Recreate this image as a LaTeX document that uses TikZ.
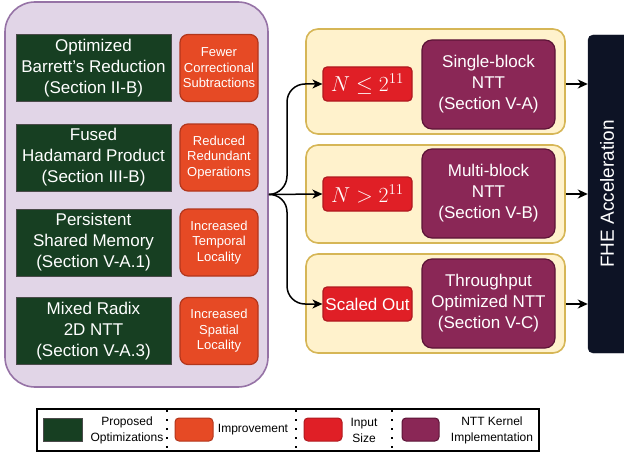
\documentclass[tikz,border=0pt]{standalone}
\usepackage{fontspec}
\setmainfont{Liberation Sans}
\usetikzlibrary{arrows.meta}
\definecolor{lilacfill}{HTML}{E1D5E7}
\definecolor{lilacdraw}{HTML}{9673A6}
\definecolor{greenfill}{HTML}{173F22}
\definecolor{greendraw}{HTML}{4A4A4A}
\definecolor{orangefill}{HTML}{E64A25}
\definecolor{orangedraw}{HTML}{B2361C}
\definecolor{yelfill}{HTML}{FFF2CC}
\definecolor{yeldraw}{HTML}{D6B656}
\definecolor{redfill}{HTML}{E01F26}
\definecolor{reddraw}{HTML}{B01A1F}
\definecolor{purfill}{HTML}{8A2756}
\definecolor{purdraw}{HTML}{5C1437}
\definecolor{navyfill}{HTML}{0D1325}
\tikzset{
  optbox/.style={draw=greendraw, fill=greenfill, line width=1pt, text=white, align=center,
    minimum width=155pt, minimum height=67pt, inner sep=0pt,
    font=\fontsize{17}{21}\selectfont},
  impbox/.style={draw=orangedraw, fill=orangefill, line width=1.2pt, text=white, align=center,
    rounded corners=8pt, minimum width=78pt, minimum height=67pt, inner sep=0pt,
    font=\fontsize{13}{15.5}\selectfont},
  groupbox/.style={draw=yeldraw, fill=yelfill, line width=1.6pt, rounded corners=12pt,
    minimum width=259pt, inner sep=0pt},
  sizebox/.style={draw=reddraw, fill=redfill, line width=1.2pt, text=white, align=center,
    rounded corners=4pt, minimum width=89pt, minimum height=34pt, inner sep=0pt,
    font=\fontsize{17}{21}\selectfont},
  kernbox/.style={draw=purdraw, fill=purfill, line width=1.2pt, text=white, align=center,
    rounded corners=10pt, minimum width=133pt, minimum height=89pt, inner sep=0pt,
    font=\fontsize{17}{21}\selectfont},
  conn/.style={line width=1.5pt, -{Stealth[length=10pt,width=9pt,inset=3pt]}},
  legtext/.style={align=center, font=\fontsize{12}{16}\selectfont, inner sep=0pt},
  legsep/.style={line width=2pt, dash pattern=on 2pt off 7pt},
}
\begin{document}
\begin{tikzpicture}[x=1pt,y=-1pt]
\useasboundingbox (0,0) rectangle (624,452);
% big group
\node[draw=lilacdraw, fill=lilacfill, line width=1.6pt, rounded corners=30pt,
  minimum width=263pt, minimum height=385pt, inner sep=0pt] (big) at (136.5,194.5) {};
\node[optbox] (o1) at (93.5,68) {Optimized\\Barrett's Reduction\\(Section II-B)};
\node[optbox] (o2) at (93.5,157.5) {Fused\\Hadamard Product\\(Section III-B)};
\node[optbox] (o3) at (93.5,242.5) {Persistent\\Shared Memory\\(Section V-A.1)};
\node[optbox] (o4) at (93.5,331) {Mixed Radix\\2D NTT\\(Section V-A.3)};
\node[impbox] (i1) at (219,68) {Fewer\\Correctional\\Subtractions};
\node[impbox] (i2) at (219,157.5) {Reduced\\Redundant\\Operations};
\node[impbox] (i3) at (219,242.5) {Increased\\Temporal\\Locality};
\node[impbox] (i4) at (219,331) {Increased\\Spatial\\Locality};
% groups
\node[groupbox, minimum height=105pt] (g1) at (435.5,81.5) {};
\node[groupbox, minimum height=98pt] (g2) at (435.5,194) {};
\node[groupbox, minimum height=99pt] (g3) at (435.5,303.5) {};
\node[sizebox] (s1) at (367.5,84) {\scalebox{1.25}{$N \le 2^{11}$}};
\node[sizebox] (s2) at (367.5,194) {\scalebox{1.25}{$N > 2^{11}$}};
\node[sizebox] (s3) at (367.5,304) {Scaled Out};
\node[kernbox] (k1) at (488.5,84.5) {Single-block\\NTT\\(Section V-A)};
\node[kernbox] (k2) at (488.5,193.5) {Multi-block\\NTT\\(Section V-B)};
\node[kernbox] (k3) at (488.5,303.5) {Throughput\\Optimized NTT\\(Section V-C)};
% FHE
\node[draw=navyfill, fill=navyfill, rounded corners=5pt, minimum width=42pt,
  minimum height=318pt, inner sep=0pt] (fhe) at (609,194) {};
\node[text=white, rotate=90, font=\fontsize{19}{23}\selectfont] (fhet) at (607,194) {FHE Acceleration};
% connectors
\coordinate (split) at (287,194);
\draw[conn, rounded corners=18pt] (big.east) -- (split) |- (s1.west);
\draw[conn] (big.east) -- (s2.west);
\draw[conn, rounded corners=18pt] (big.east) -- (split) |- (s3.west);
\draw[conn] (g1.east |- s1) -- (fhe.west |- s1);
\draw[conn] (g2.east |- s2) -- (fhe.west |- s2);
\draw[conn] (g3.east |- s3) -- (fhe.west |- s3);
% legend
\node[draw=black, line width=2pt, minimum width=502pt, minimum height=42pt, inner sep=0pt] (leg) at (288,429.5) {};
\node[draw=greendraw, fill=greenfill, line width=1pt, minimum width=39pt, minimum height=23pt, inner sep=0pt] (lg) at (62.5,429.5) {};
\node[legtext] (lgt) at (127,430) {Proposed\\Optimizations};
\node[draw=orangedraw, fill=orangefill, line width=1pt, rounded corners=4pt, minimum width=38pt, minimum height=23pt, inner sep=0pt] (lo) at (194,429.5) {};
\node[legtext] (lot) at (253,430) {Improvement};
\node[draw=reddraw, fill=redfill, line width=1pt, rounded corners=4pt, minimum width=38pt, minimum height=23pt, inner sep=0pt] (lr) at (323,429.5) {};
\node[legtext] (lrt) at (364,430) {Input\\Size};
\node[draw=purdraw, fill=purfill, line width=1pt, rounded corners=4pt, minimum width=37pt, minimum height=23pt, inner sep=0pt] (lp) at (420.5,429.5) {};
\node[legtext] (lpt) at (492,430) {NTT Kernel\\Implementation};
\coordinate (sep1t) at (167,410); \coordinate (sep1b) at (167,450);
\coordinate (sep2t) at (296,410); \coordinate (sep2b) at (296,450);
\coordinate (sep3t) at (392,410); \coordinate (sep3b) at (392,450);
\draw[legsep] (sep1t) -- (sep1b);
\draw[legsep] (sep2t) -- (sep2b);
\draw[legsep] (sep3t) -- (sep3b);
\end{tikzpicture}
\end{document}
